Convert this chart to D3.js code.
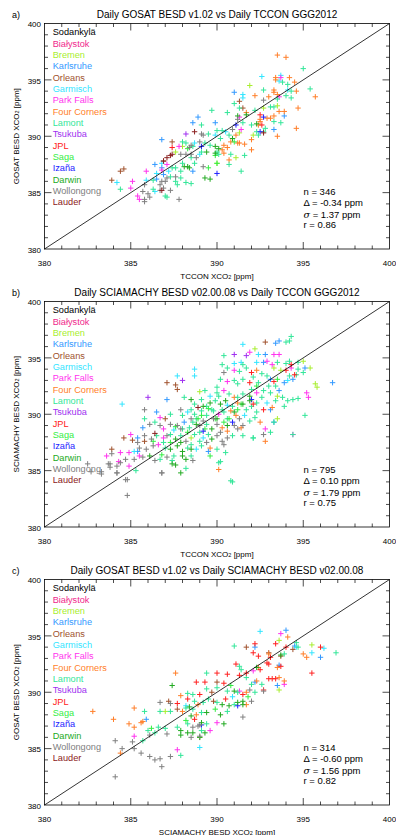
<!DOCTYPE html>
<html><head><meta charset="utf-8">
<script src="https://cdn.jsdelivr.net/npm/d3@7"></script>
<style>body{margin:0;background:#fff}svg{display:block}text{font-family:"Liberation Sans",Arial,Helvetica,sans-serif}</style>
</head><body><svg id="c" width="396" height="835"></svg>
<script>
// ---------- categories / labels ----------
const stations = ["Sodankylä","Białystok","Bremen","Karlsruhe","Orleans","Garmisch","Park Falls","Four Corners","Lamont","Tsukuba","JPL","Saga","Izaña","Darwin","Wollongong","Lauder"];
const stationColors = ["#000000","#f0288c","#a8ee30","#3399ff","#a0522d","#33e5ff","#ff33ee","#ff7f2a","#33e699","#a030f0","#ff2020","#33ee44","#2222ff","#22aa22","#808080","#8b2020"];
const panelLetters = ["a)","b)","c)"];
const panelTitles = ["Daily GOSAT BESD v1.02 vs Daily TCCON GGG2012","Daily SCIAMACHY BESD v02.00.08 vs Daily TCCON GGG2012","Daily GOSAT BESD v1.02 vs Daily SCIAMACHY BESD v02.00.08"];
const xTitles = ["TCCON XCO","TCCON XCO","SCIAMACHY BESD XCO"];
const yTitles = ["GOSAT BESD XCO","SCIAMACHY BESD XCO","GOSAT BESD XCO"];
const majorTicks = [380,385,390,395,400];
const minorTicks = [381,382,383,384,386,387,388,389,391,392,393,394,396,397,398,399];
const statN = [346,795,314];
const statDelta = ["-0.34","0.10","-0.60"];
const statSigma = ["1.37","1.79","1.56"];
const statR = ["0.86","0.75","0.82"];

// ---------- panel a: GOSAT vs TCCON ----------
const a_Sodankyla = [];
const a_Bialystok = [];
const a_Bremen = [[391.9,394.5],[392.7,392.5],[393.5,392.7],[392.1,390.1],[391.3,390.3],[391.1,388.1],[390.0,387.6],[387.6,388.6],[388.0,389.1]];
const a_Karlsruhe = [[391.0,393.9],[393.9,391.8],[393.3,390.6],[388.9,391.7],[388.6,391.2],[389.9,391.2],[386.8,389.7],[386.8,387.2],[386.4,387.5],[386.9,386.6],[388.6,386.9],[386.5,386.2]];
const a_Orleans = [[391.3,393.1],[391.5,392.5],[387.4,389.5],[386.9,387.8],[384.4,386.9],[384.6,387.1],[383.9,386.1]];
const a_Garmisch = [[392.6,395.3],[393.7,395.4],[393.6,394.9],[394.1,394.1],[391.5,393.7],[391.5,393.4],[390.5,390.4],[388.7,389.4],[389.0,388.4],[386.8,387.6],[386.5,386.7],[387.2,386.9],[384.2,385.9],[385.9,386.1],[386.4,385.1],[389.9,390.1]];
const a_ParkFalls = [[393.6,393.5],[393.7,395.2],[391.4,390.6],[387.8,389.1],[387.1,387.5],[386.8,387.0],[385.9,386.9],[385.1,386.0],[385.0,385.4],[385.4,384.7],[385.5,384.4],[391.3,391.7]];
const a_FourCorners = [[393.5,397.2],[394.0,397.0],[393.4,395.2],[393.4,395.0],[394.2,395.2],[394.5,394.8],[392.2,393.6],[393.0,393.5],[393.3,394.1],[393.3,393.9],[393.5,393.7],[394.6,394.0],[395.7,393.5],[391.7,392.1],[393.6,392.2],[393.9,392.2],[394.7,392.5],[392.5,391.5],[392.5,391.3],[392.4,391.0],[392.9,391.6],[393.1,391.6],[393.3,391.8],[392.0,389.7],[391.6,389.3],[392.0,388.8],[393.5,390.0],[394.6,390.7],[391.1,390.1],[390.8,389.5],[391.2,389.4],[390.3,388.8],[390.4,389.2],[390.6,389.0],[390.4,388.5],[390.7,387.9],[391.3,389.4]];
const a_Lamont = [[395.0,396.0],[393.8,394.8],[394.1,394.6],[392.7,394.1],[393.5,393.3],[394.0,393.6],[394.3,394.0],[394.3,393.4],[395.4,394.2],[391.3,392.5],[391.0,392.9],[390.6,392.1],[389.7,392.3],[392.2,392.3],[393.1,392.6],[393.3,392.6],[391.5,391.2],[392.0,391.0],[393.3,391.3],[393.7,391.2],[392.8,390.7],[392.3,390.4],[392.7,390.4],[392.4,390.1],[391.6,388.3],[389.1,391.0],[390.0,390.5],[390.3,390.5],[389.5,390.2],[390.2,389.8],[390.7,390.1],[388.0,389.5],[388.2,389.4],[388.6,389.1],[389.3,389.4],[389.6,389.2],[390.1,388.4],[390.0,388.6],[390.8,388.4],[390.7,387.5],[388.5,388.1],[389.1,388.6],[388.0,387.6],[388.7,387.6],[387.4,387.2],[387.6,387.2],[387.9,386.9],[387.3,386.4],[387.9,386.3],[391.4,386.9],[384.4,385.3],[386.3,386.1],[386.3,385.3],[387.1,384.6],[387.7,385.7],[388.2,385.9],[388.5,385.8],[387.6,386.0],[387.0,384.7]];
const a_Tsukuba = [[388.2,390.2]];
const a_JPL = [[392.6,391.0],[387.4,389.0],[392.5,391.9]];
const a_Saga = [[390.0,387.6],[389.9,388.3],[391.0,389.5],[388.3,388.9],[389.5,387.2]];
const a_Izana = [[392.7,391.7],[391.1,391.0],[392.5,390.4],[390.0,386.7],[389.1,389.1]];
const a_Darwin = [[391.2,391.8],[391.7,391.9],[392.3,391.1],[389.9,389.1],[389.4,388.6],[390.1,388.9],[389.9,388.5],[388.3,387.3],[388.4,387.2],[388.1,387.3],[389.3,386.3],[389.6,386.2],[390.9,389.8]];
const a_Wollongong = [[392.7,393.2],[391.2,391.5],[390.9,390.6],[389.1,390.2],[389.2,390.1],[389.0,389.5],[388.5,389.2],[388.4,389.0],[387.9,388.4],[388.2,388.4],[388.5,388.4],[388.8,388.1],[389.2,387.3],[387.6,386.4],[385.8,385.7],[386.8,386.0],[386.7,385.7],[387.0,386.0],[387.1,386.3],[387.3,385.2],[386.9,385.4],[386.7,385.2],[385.7,385.1],[386.0,384.9],[385.8,384.2],[386.1,384.6],[387.8,384.4],[385.8,384.4]];
const a_Lauder = [[388.7,390.4],[387.4,388.4],[387.1,388.1],[387.3,388.3],[386.9,387.8],[386.8,385.2],[392.7,390.3]];

// ---------- panel b: SCIAMACHY vs TCCON ----------
const b_Sodankyla = [];
const b_Bialystok = [];
const b_Bremen = [[392.2,395.8],[395.0,394.7],[393.3,394.1],[393.7,393.9],[395.4,394.1],[395.7,392.7],[395.8,392.4],[389.0,392.0],[393.5,391.6],[393.5,389.6],[388.5,387.9]];
const b_Karlsruhe = [[393.6,396.5],[393.4,396.3],[392.8,395.3],[392.7,394.6],[395.1,394.1],[393.1,393.1],[393.6,392.1],[393.9,392.8],[394.4,393.1],[396.7,392.8],[387.1,391.3],[393.1,390.4],[386.5,390.2],[385.7,388.8],[388.1,389.3],[385.4,387.9],[385.4,386.7],[389.5,386.7],[393.3,389.3]];
const b_Orleans = [[392.8,396.4],[387.1,392.8],[387.6,392.6],[387.7,392.2],[387.0,389.6],[384.6,387.9],[383.9,386.9],[385.1,387.7],[385.8,387.6]];
const b_Garmisch = [[391.5,396.2],[392.4,395.3],[391.0,394.5],[391.4,394.6],[392.3,394.6],[388.7,394.0],[388.7,393.4],[387.7,393.4],[394.1,393.0],[389.6,391.6],[384.5,390.9],[388.3,390.2],[391.6,389.9],[389.2,387.9],[385.2,386.7],[388.8,386.9],[390.6,390.8],[392.9,391.0],[387.5,388.6]];
const b_ParkFalls = [[391.9,395.5],[393.3,395.3],[393.6,395.3],[392.9,394.7],[393.2,394.4],[394.3,394.1],[391.0,393.9],[390.6,392.9],[390.4,392.1],[392.3,391.9],[395.2,391.9],[395.3,391.5],[386.7,389.7],[390.1,390.0],[392.8,388.7],[394.4,388.2],[386.9,388.7],[385.0,388.2],[386.9,387.9],[383.6,386.3],[384.9,386.6],[384.4,386.6],[386.6,387.3],[385.5,386.3],[384.3,385.8],[384.9,385.4]];
const b_FourCorners = [[392.3,393.9],[391.0,391.5],[393.2,390.6],[391.2,391.0],[390.8,390.3],[391.1,389.9],[392.5,389.3],[390.3,388.8],[390.6,388.5],[391.4,388.8],[389.6,387.0],[390.1,385.1],[392.8,387.6]];
const b_Lamont = [[394.3,396.9],[394.2,396.5],[394.0,396.4],[390.4,395.2],[390.3,394.4],[391.5,394.4],[391.7,394.1],[393.5,394.6],[394.0,394.5],[394.2,394.7],[394.7,394.6],[390.6,394.1],[391.3,393.8],[392.6,393.6],[392.9,393.4],[394.7,394.0],[395.0,393.7],[390.2,393.1],[390.0,392.4],[391.0,393.0],[391.2,392.7],[391.5,393.1],[392.1,393.3],[392.4,392.8],[393.4,392.5],[394.2,393.4],[394.6,393.5],[389.3,392.1],[390.0,391.9],[390.7,391.8],[391.5,391.8],[392.7,392.1],[393.1,391.9],[393.8,391.5],[394.1,391.2],[394.4,391.3],[394.7,391.4],[393.9,390.7],[395.1,389.9],[388.1,391.5],[388.7,390.9],[389.1,391.3],[389.9,391.2],[390.9,390.7],[392.0,390.7],[392.3,391.0],[392.3,390.2],[385.8,389.6],[387.3,390.0],[388.0,389.9],[388.5,390.4],[388.7,390.0],[389.1,390.3],[389.4,389.9],[389.8,390.3],[390.4,390.2],[391.9,389.4],[392.2,389.7],[393.3,389.3],[386.4,389.3],[388.4,388.8],[388.6,389.3],[389.4,389.1],[391.5,388.1],[392.1,387.9],[393.1,388.4],[386.5,388.1],[387.3,388.2],[387.9,388.1],[388.7,388.2],[389.0,388.4],[389.5,388.2],[390.9,388.1],[387.0,387.0],[388.3,387.0],[388.5,387.3],[389.1,387.2],[390.0,386.9],[390.5,386.6],[386.7,386.0],[387.4,385.9],[388.5,386.3],[388.2,385.2],[390.1,385.7],[390.9,384.0],[385.3,385.0],[390.2,385.8],[390.8,384.1],[394.4,388.2],[392.1,387.9],[390.3,390.4],[390.6,389.6],[388.8,389.6],[389.0,387.6],[391.2,391.5],[391.7,390.4],[392.6,391.5],[393.0,392.5],[392.0,392.2],[388.0,388.7],[386.9,387.5],[387.5,386.3],[389.7,390.4],[389.4,390.7],[390.1,391.6],[393.4,391.2]];
const b_Tsukuba = [[391.7,395.2],[391.0,395.3],[388.0,393.0],[386.0,391.5]];
const b_JPL = [[394.3,394.4],[392.0,393.7],[394.0,393.9],[391.9,392.8],[392.7,390.4],[394.5,393.5],[393.3,392.9],[392.1,390.9]];
const b_Saga = [[389.5,390.5],[388.9,389.6],[390.7,389.6],[387.6,388.9],[391.4,390.9],[386.3,387.6],[389.1,389.9],[389.9,389.6],[390.4,389.3],[389.3,388.7],[388.3,388.4],[391.2,390.4],[392.3,392.5],[393.5,393.1],[387.3,387.5],[389.6,386.3],[386.8,386.4]];
const b_Izana = [[390.9,389.3],[389.2,388.5],[392.0,391.3]];
const b_Darwin = [[391.9,391.6],[388.5,391.3],[389.2,390.7],[389.6,391.0],[390.2,390.9],[390.5,391.2],[391.5,390.9],[389.7,388.7],[387.6,387.8],[389.7,387.8],[387.3,386.9],[387.7,387.2],[388.0,386.7],[386.1,386.3],[387.6,385.5],[388.0,386.3],[388.2,386.0],[387.9,384.8],[387.4,385.6],[388.8,389.1],[390.0,389.6],[390.6,389.0],[388.5,386.9],[387.9,387.5],[391.0,390.2],[391.9,391.2]];
const b_Wollongong = [[390.4,393.7],[385.8,390.4],[387.9,390.4],[391.3,389.6],[386.1,389.1],[386.7,389.0],[387.3,389.1],[387.7,389.0],[389.0,389.0],[389.2,389.4],[390.0,389.1],[391.0,389.0],[391.2,388.7],[392.7,388.2],[385.8,388.1],[386.2,387.8],[388.2,387.6],[390.0,388.1],[390.3,387.6],[390.6,387.9],[385.5,387.0],[385.9,386.9],[386.3,387.2],[389.4,387.5],[390.4,387.3],[383.8,385.6],[383.8,385.3],[384.2,385.4],[384.2,384.8],[384.4,385.7],[384.7,386.0],[385.2,386.0],[385.7,386.2],[386.4,385.9],[387.1,386.2],[388.6,385.9],[383.3,384.7],[384.8,384.2],[386.8,384.8],[383.9,386.5],[382.5,385.6],[382.7,384.9],[383.3,384.9],[383.7,385.6],[384.2,384.8],[384.7,384.2],[384.8,382.8],[386.8,384.8],[389.8,389.6],[388.5,389.6],[387.1,388.1],[387.9,388.7],[390.2,388.4],[391.5,389.0],[385.4,387.5]];
const b_Lauder = [[388.9,390.6],[386.4,388.3]];

// ---------- panel c: GOSAT vs SCIAMACHY ----------
const c_Sodankyla = [];
const c_Bialystok = [];
const c_Bremen = [[393.6,394.6],[395.5,394.2],[393.6,390.2],[387.0,388.3],[389.0,386.0]];
const c_Karlsruhe = [[394.0,395.5],[392.2,394.0],[396.0,393.1],[393.6,392.4],[392.2,390.9],[393.5,390.6],[385.9,387.6],[394.5,394.1]];
const c_Orleans = [[391.7,394.0],[394.4,393.8],[390.0,390.9],[389.7,390.0],[387.2,389.2],[387.7,388.5],[389.8,389.2],[393.7,393.2],[393.0,393.5]];
const c_Garmisch = [[392.5,395.4],[395.5,393.5],[396.2,393.9],[389.0,385.1],[394.6,394.0],[390.9,389.6],[388.2,388.8]];
const c_ParkFalls = [[393.7,395.2],[392.1,391.9],[393.9,390.7],[391.3,390.1],[390.0,387.3],[389.6,386.6],[385.2,386.1],[387.7,384.9]];
const c_FourCorners = [[394.1,394.9],[395.0,393.4],[395.2,393.1],[393.5,392.2],[393.6,391.3],[393.9,391.0],[392.3,391.0],[391.7,390.0],[387.6,391.7],[387.9,389.7],[388.9,388.9],[388.0,388.3],[388.8,388.0],[391.7,388.9],[382.8,388.3],[385.2,388.6],[384.0,387.6],[384.9,387.2],[385.2,386.9],[385.6,387.3],[384.4,384.6],[385.7,387.4],[392.4,392.2],[393.0,393.4]];
const c_Lamont = [[391.0,394.1],[394.6,394.4],[394.7,394.0],[393.9,393.4],[396.9,393.5],[391.3,392.3],[391.4,392.0],[389.4,391.7],[391.7,391.3],[392.0,390.7],[392.6,390.7],[389.4,390.3],[390.0,390.4],[390.6,390.1],[391.2,390.0],[392.2,390.0],[388.3,389.9],[388.6,389.8],[388.7,389.2],[389.2,389.1],[389.5,389.4],[390.0,389.1],[391.0,388.9],[385.8,388.3],[386.7,388.3],[387.3,388.3],[388.2,388.6],[388.6,388.5],[389.1,388.2],[390.6,388.3],[386.0,386.6],[386.4,386.4],[386.6,386.9],[387.0,386.8],[387.7,386.9],[388.3,387.2],[389.4,387.2],[389.1,386.6],[385.7,385.7],[387.9,384.4]];
const c_Tsukuba = [];
const c_JPL = [[393.4,394.3],[394.0,394.0],[392.2,394.3],[392.1,393.5],[392.4,393.2],[393.1,393.1],[392.9,392.6],[396.0,394.0],[395.5,391.7],[391.1,392.5],[391.7,391.7],[392.5,392.0],[393.0,392.5],[393.7,392.3],[393.0,391.2],[393.2,391.2],[393.4,391.2],[390.0,391.7],[390.6,391.6],[391.3,391.5],[392.7,390.2],[388.8,390.9],[389.3,390.9],[390.4,390.8],[391.5,389.8],[387.7,389.0],[388.3,389.4],[389.0,389.8],[390.5,389.4],[388.7,387.6]];
const c_Saga = [[388.2,387.5],[389.9,388.5],[391.8,389.6],[386.2,386.8],[390.8,390.6]];
const c_Izana = [[391.2,388.8],[389.1,387.1]];
const c_Darwin = [[393.7,393.3],[392.3,392.2],[387.4,390.6],[391.0,390.1],[391.5,389.2],[390.3,388.9],[390.7,388.8],[391.2,389.1],[391.5,388.9],[388.4,388.7],[389.4,388.2],[390.2,388.0],[387.9,386.6],[388.5,387.9],[389.1,387.3],[390.4,387.2],[389.3,386.4],[388.3,386.4],[387.9,386.2],[388.6,386.4],[389.0,386.0]];
const c_Wollongong = [[392.0,389.2],[391.9,390.2],[386.7,389.1],[387.3,389.0],[388.9,387.0],[388.6,386.9],[386.1,386.2],[387.1,386.3],[384.1,385.7],[384.5,385.0],[385.1,385.6],[385.2,385.0],[385.6,384.6],[386.1,384.3],[386.4,384.0],[386.7,384.1],[386.8,383.4],[387.3,384.3],[384.1,382.5],[391.5,387.8],[392.7,390.1],[388.5,386.0],[389.0,386.1],[389.0,387.1]];
const c_Lauder = [];

const panelData = [
  [a_Sodankyla,a_Bialystok,a_Bremen,a_Karlsruhe,a_Orleans,a_Garmisch,a_ParkFalls,a_FourCorners,a_Lamont,a_Tsukuba,a_JPL,a_Saga,a_Izana,a_Darwin,a_Wollongong,a_Lauder],
  [b_Sodankyla,b_Bialystok,b_Bremen,b_Karlsruhe,b_Orleans,b_Garmisch,b_ParkFalls,b_FourCorners,b_Lamont,b_Tsukuba,b_JPL,b_Saga,b_Izana,b_Darwin,b_Wollongong,b_Lauder],
  [c_Sodankyla,c_Bialystok,c_Bremen,c_Karlsruhe,c_Orleans,c_Garmisch,c_ParkFalls,c_FourCorners,c_Lamont,c_Tsukuba,c_JPL,c_Saga,c_Izana,c_Darwin,c_Wollongong,c_Lauder]
];

// ---------- layout ----------
const svg = d3.select("#c");
const panelTops = [23.5, 301.5, 579.5];
const plotH = 225.5, plotL = 44.5, plotR = 389.5;
const fontTick = 8, fontLegend = 9.2, fontStat = 9.5, fontTitle = 10;

function addTitleWithSub(sel, base) {
  sel.append("tspan").text(base);
  sel.append("tspan").attr("font-size", 5.5).attr("dy", 1.8).text("2");
  sel.append("tspan").attr("dy", -1.8).text(" [ppm]");
}

panelData.forEach((series, p) => {
  const top = panelTops[p], bottom = top + plotH;
  const x = d3.scaleLinear().domain([380,400]).range([plotL, plotR]);
  const y = d3.scaleLinear().domain([380,400]).range([bottom, top]);
  const g = svg.append("g");

  // points
  series.forEach((pts, s) => {
    g.append("g").selectAll("path").data(pts).join("path")
      .attr("d", d => { const px = x(d[0]), py = y(d[1]); const h = 2.7;
        return `M${px-h},${py}H${px+h}M${px},${py-h}V${py+h}`; })
      .attr("stroke", stationColors[s]).attr("stroke-width", 1).attr("fill", "none");
  });

  // 1:1 line
  g.append("line").attr("x1", x(380)).attr("y1", y(380)).attr("x2", x(400)).attr("y2", y(400))
    .attr("stroke", "#000").attr("stroke-width", 0.8);

  // frame
  g.append("rect").attr("x", plotL).attr("y", top).attr("width", plotR - plotL).attr("height", plotH)
    .attr("fill", "none").attr("stroke", "#000").attr("stroke-width", 0.8);

  // ticks (inside, all four sides)
  const tickG = g.append("g").attr("stroke", "#000").attr("stroke-width", 0.7);
  const drawTicks = (vals, len) => vals.forEach(v => {
    if (v === 380 || v === 400) return;
    tickG.append("line").attr("x1", plotL).attr("x2", plotL + len).attr("y1", y(v)).attr("y2", y(v));
    tickG.append("line").attr("x1", plotR).attr("x2", plotR - len).attr("y1", y(v)).attr("y2", y(v));
    tickG.append("line").attr("y1", bottom).attr("y2", bottom - len).attr("x1", x(v)).attr("x2", x(v));
    tickG.append("line").attr("y1", top).attr("y2", top + len).attr("x1", x(v)).attr("x2", x(v));
  });
  drawTicks(majorTicks, 7);
  drawTicks(minorTicks, 3.5);

  // tick labels
  majorTicks.forEach(v => {
    g.append("text").attr("x", x(v)).attr("y", bottom + 14).attr("text-anchor", "middle")
      .attr("dominant-baseline", "central").attr("font-size", fontTick).text(v);
    g.append("text").attr("x", plotL - 3.5).attr("y", y(v) + 1.2).attr("text-anchor", "end")
      .attr("dominant-baseline", "central").attr("font-size", fontTick).text(v);
  });

  // axis titles
  addTitleWithSub(g.append("text").attr("x", (plotL + plotR) / 2).attr("y", bottom + 26.5)
    .attr("text-anchor", "middle").attr("dominant-baseline", "central").attr("font-size", fontTick), xTitles[p]);
  addTitleWithSub(g.append("text").attr("transform", `translate(15.5,${(top + bottom) / 2}) rotate(-90)`)
    .attr("text-anchor", "middle").attr("dominant-baseline", "central").attr("font-size", fontTick), yTitles[p]);

  // title and panel letter
  g.append("text").attr("x", (plotL + plotR) / 2).attr("y", top - 8.7).attr("text-anchor", "middle")
    .attr("dominant-baseline", "central").attr("font-size", fontTitle).text(panelTitles[p]);
  g.append("text").attr("x", 12).attr("y", top - 8.7).attr("dominant-baseline", "central")
    .attr("font-size", 9).text(panelLetters[p]);

  // legend
  stations.forEach((name, s) => {
    g.append("text").attr("x", 52.7).attr("y", top + 8.8 + s * 11.33).attr("dominant-baseline", "central")
      .attr("font-size", fontLegend).attr("fill", stationColors[s]).text(name);
  });

  // statistics
  const sx = 303.5, sy = top + 168;
  g.append("text").attr("x", sx).attr("y", sy).attr("dominant-baseline", "central").attr("font-size", fontStat)
    .text(`n = ${statN[p]}`);
  g.append("text").attr("x", sx).attr("y", sy + 11.1).attr("dominant-baseline", "central").attr("font-size", fontStat)
    .text(`Δ = ${statDelta[p]} ppm`);
  const st = g.append("text").attr("x", sx).attr("y", sy + 22.2).attr("dominant-baseline", "central").attr("font-size", fontStat);
  st.append("tspan").attr("font-style", "italic").attr("font-family", "'DejaVu Serif',serif").text("σ");
  st.append("tspan").text(` = ${statSigma[p]} ppm`);
  g.append("text").attr("x", sx).attr("y", sy + 33.3).attr("dominant-baseline", "central").attr("font-size", fontStat)
    .text(`r = ${statR[p]}`);
});
</script></body></html>
